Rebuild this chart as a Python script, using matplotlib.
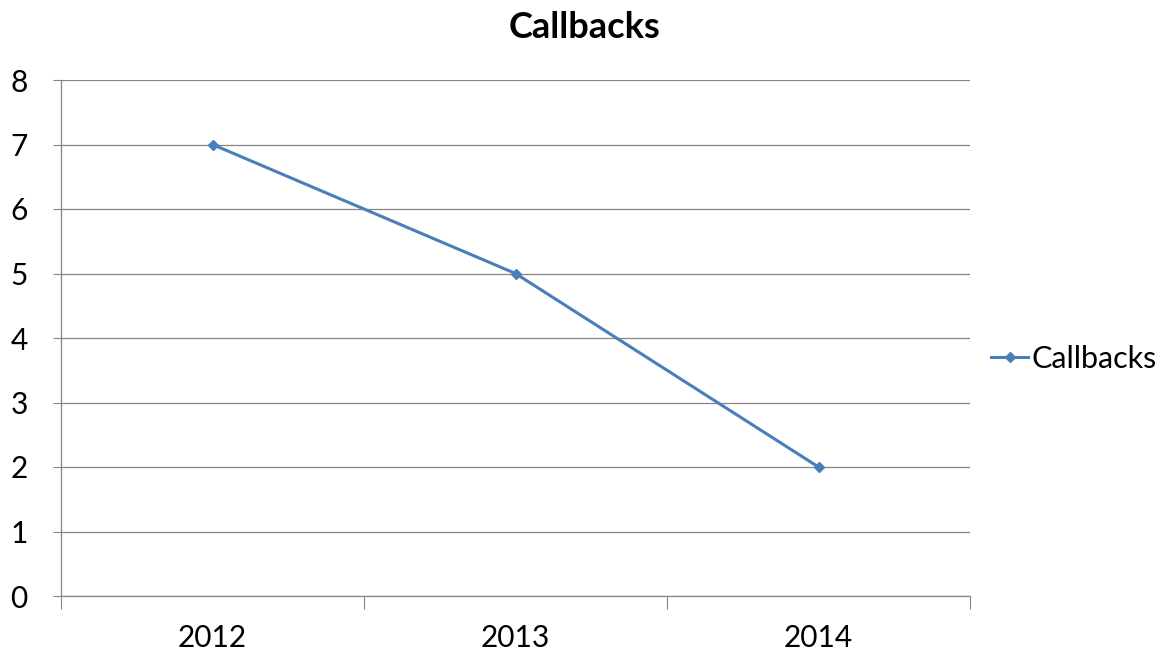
import matplotlib.pyplot as plt
import numpy as np

plt.rcParams['font.family'] = ['Lato', 'DejaVu Sans']

years = ["2012", "2013", "2014"]
callbacks = [7, 5, 2]
y_ticks = [0, 1, 2, 3, 4, 5, 6, 7, 8]

line_color = "#4A7EBB"
grid_color = "#868686"

fig = plt.figure(figsize=(11.62, 6.56), dpi=100)
ax = fig.add_axes([61 / 1162, 1 - 596 / 656, (970 - 61) / 1162, (596 - 80) / 656])

x = np.arange(len(years)) + 0.5
ax.plot(x, callbacks, color=line_color, linewidth=2.2, marker="D", markersize=5.5,
        label="Callbacks")

ax.set_xlim(0, len(years))
ax.set_ylim(0, 8)
ax.set_yticks(y_ticks)
ax.set_yticklabels([str(t) for t in y_ticks], fontsize=21.5)
ax.yaxis.grid(True, color=grid_color, linewidth=0.9)
ax.set_axisbelow(True)

# category boundaries get ticks, labels sit between them
ax.set_xticks(np.arange(len(years) + 1))
ax.set_xticklabels([])
ax.set_xticks(x, minor=True)
ax.set_xticklabels(years, minor=True, fontsize=21.5)
ax.tick_params(axis="x", which="major", length=9, color=grid_color, direction="out")
ax.tick_params(axis="x", which="minor", length=0, pad=20)
ax.tick_params(axis="y", length=6, color=grid_color, pad=18)

for side in ["top", "right"]:
    ax.spines[side].set_visible(False)
for side in ["left", "bottom"]:
    ax.spines[side].set_color(grid_color)
    ax.spines[side].set_linewidth(0.9)

fig.text(585 / 1162, 1 - 28 / 656, "Callbacks", ha="center", va="center",
         fontsize=26, fontweight="bold")

leg = ax.legend(loc="center left", bbox_to_anchor=(1.0, 0.46), frameon=False,
                fontsize=22, handlelength=1.2, handletextpad=0.1, borderaxespad=0.3)

plt.savefig("out.png", dpi=100)
